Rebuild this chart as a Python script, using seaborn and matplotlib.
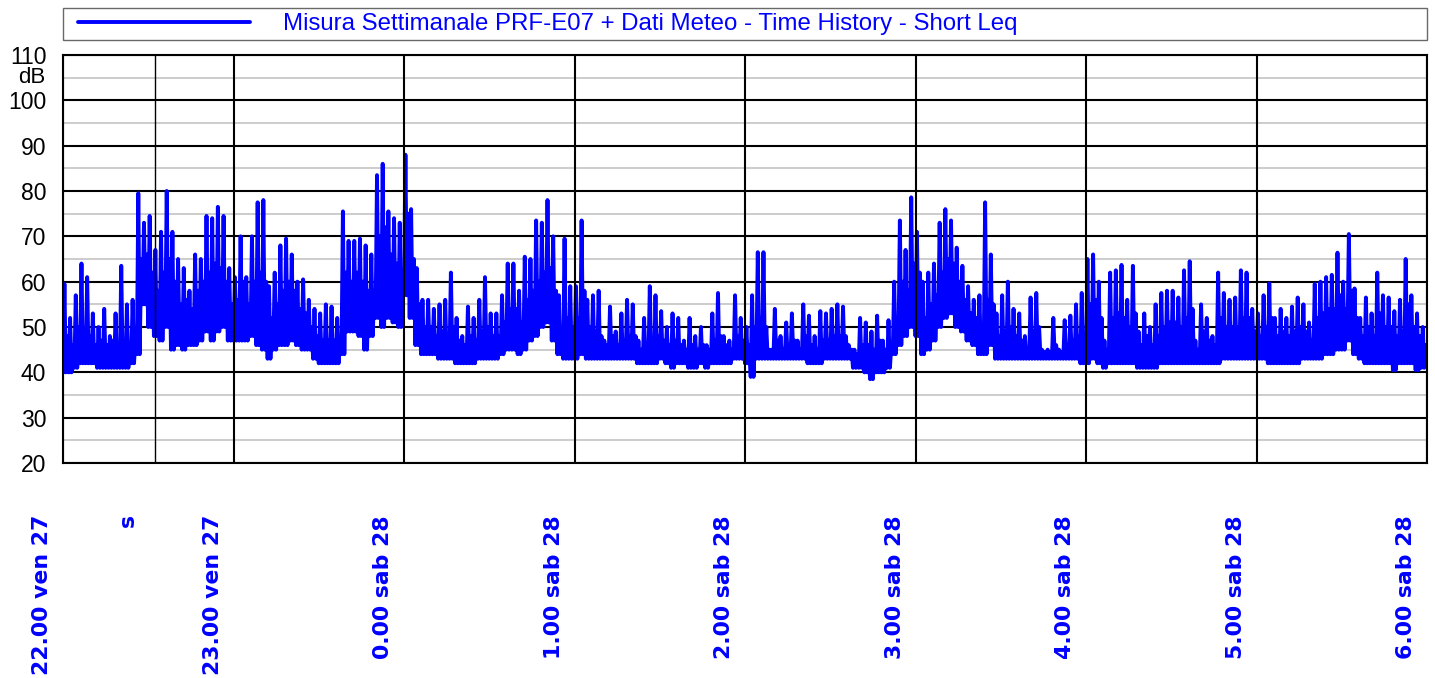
import numpy as np
import pandas as pd
import matplotlib
matplotlib.use("Agg")
import matplotlib.pyplot as plt
import matplotlib.transforms as mtransforms
from matplotlib.legend_handler import HandlerLine2D
import seaborn as sns

# Short Leq time history in 2-minute bins.
# floor = lowest level, peak = tallest spike, band = top of the dense band (dB)
BIN_MIN = 2

hour22_peak = [59.5, 52, 57, 64, 61, 53, 50, 54, 48, 53, 63.5, 55, 56, 79.5, 73,
               74.5, 67, 71, 80, 71, 65, 63, 58, 66, 65, 74.5, 74, 76.5, 74.5, 63]
hour22_band = [48, 46, 50, 47, 48, 46, 47, 46, 47, 46, 47, 46, 48, 65, 66,
               62, 58, 62, 65, 60, 55, 56, 54, 58, 60, 62, 64, 63, 60, 55]
hour22_floor = [40, 40, 41, 42, 42, 42, 41, 41, 41, 41, 41, 41, 42, 44, 55,
                50, 48, 47, 50, 45, 46, 45, 46, 46, 47, 49, 47, 49, 50, 47]

hour23_peak = [61, 70, 61, 70, 77.5, 78, 59, 62, 68, 69.5, 66, 60, 60.5, 56, 54,
               53, 55, 54.5, 52, 75.5, 69, 69, 69.5, 68, 66, 83.5, 86, 75.5, 74, 73]
hour23_band = [56, 60, 55, 60, 62, 60, 52, 55, 58, 60, 58, 54, 53, 50, 48,
               47, 47, 47, 47, 62, 60, 62, 60, 58, 58, 70, 72, 66, 64, 62]
hour23_floor = [47, 47, 47, 48, 46, 45, 43, 45, 46, 46, 47, 46, 45, 45, 43,
                42, 42, 42, 42, 44, 49, 49, 48, 45, 48, 52, 50, 52, 51, 50]

hour0_peak = [88, 76, 63, 56, 56, 54, 55, 56, 62, 52, 48, 54.5, 52, 56, 61,
              53, 53, 57, 64, 64, 58, 65.5, 65, 73.5, 73, 78, 70, 57, 69.5, 59]
hour0_band = [75, 65, 55, 50, 50, 48, 49, 48, 50, 47, 46, 48, 47, 49, 50,
              48, 48, 51, 54, 54, 51, 56, 58, 60, 62, 63, 58, 50, 52, 50]
hour0_floor = [57, 52, 46, 44, 44, 44, 43, 43, 43, 42, 42, 42, 42, 43, 43,
               43, 43, 44, 45, 45, 44, 45, 47, 48, 50, 51, 47, 44, 43, 43]

hour1_peak = [59, 73.5, 56, 57, 58, 47, 54.5, 49, 53, 56, 55, 47, 52, 59, 57,
              53.5, 50, 53, 52, 47, 52, 48, 50, 46, 53, 57.5, 48, 47, 57, 52]
hour1_band = [52, 58, 50, 49, 48, 46, 48, 46, 47, 48, 48, 45, 46, 47, 48,
              47, 46, 47, 46, 45, 46, 45, 46, 45, 47, 48, 46, 45, 48, 47]
hour1_floor = [43, 44, 43, 43, 43, 43, 43, 43, 43, 43, 43, 42, 42, 42, 42,
               43, 42, 41, 42, 42, 41, 41, 42, 41, 42, 42, 42, 42, 43, 43]

hour2_peak = [50, 57, 66.5, 66.5, 45, 54, 48, 51, 53, 47, 55, 52.5, 48, 53.5, 53,
              54, 55, 54.5, 46, 45, 52, 51, 49, 52.5, 47, 51.5, 60, 73.5, 67, 78.6]
hour2_band = [46, 50, 52, 50, 45, 47, 45, 46, 47, 45, 48, 46, 45, 47, 47,
              48, 48, 48, 45, 44, 46, 46, 45, 47, 45, 46, 52, 60, 58, 64]
hour2_floor = [42, 39, 43, 43, 43, 43, 43, 43, 43, 43, 43, 42, 42, 42, 43,
               43, 43, 43, 43, 41, 41, 40, 38.5, 40, 40, 41, 44, 46, 48, 50]

hour3_peak = [71, 60, 62, 64, 73, 76, 73.5, 67.5, 63.5, 59, 56, 57, 77.5, 66, 53,
              57, 60, 54, 53, 48, 56.5, 57.5, 45, 45, 52, 45, 51.5, 52.5, 55, 57.5]
hour3_band = [62, 52, 55, 57, 62, 65, 64, 60, 56, 53, 52, 50, 56, 55, 48,
              49, 50, 48, 47, 45, 49, 50, 44.5, 44.5, 46, 44.5, 46, 47, 48, 48]
hour3_floor = [48, 44, 45, 47, 50, 52, 53, 50, 49, 47, 46, 44, 44, 46, 43,
               43, 43, 43, 43, 43, 43, 43, 43, 43, 43, 43, 43, 43, 43, 42]

hour4_peak = [65, 66, 60, 47, 62, 62.5, 63.7, 56, 63.5, 49, 53, 50, 55, 57.5, 58,
              58, 56.5, 62.5, 64.5, 47, 55, 52, 48, 62, 57.5, 56, 56.5, 62.5, 62, 54]
hour4_band = [55, 56, 52, 45, 52, 53, 52, 50, 53, 46, 48, 46, 48, 50, 51,
              51, 50, 52, 54, 45, 49, 47, 46, 52, 50, 50, 50, 52, 52, 49]
hour4_floor = [42, 43, 42, 41, 42, 42, 42, 42, 42, 41, 41, 41, 41, 42, 42,
               42, 42, 42, 42, 42, 42, 42, 42, 42, 43, 43, 43, 43, 43, 43]

hour5_peak = [53, 57, 59.6, 52, 54, 52, 54.5, 56.5, 55, 51, 59.5, 60, 61, 61.5, 66.4,
              60, 70.5, 58.5, 52, 56.5, 53, 62, 57, 56.5, 53.5, 56, 65, 57, 53, 50]
hour5_band = [48, 50, 52, 48, 49, 48, 49, 50, 49, 47, 52, 53, 54, 54, 57,
              54, 58, 52, 48, 50, 48, 53, 50, 50, 48, 49, 55, 50, 48, 46]
hour5_floor = [43, 43, 42, 42, 42, 42, 42, 42, 43, 43, 43, 43, 44, 44, 45,
               45, 47, 44, 43, 42, 42, 42, 42, 42, 40.5, 42, 42, 42, 40.5, 41]
end_db = 42

hour_labels = ["22.00 ven 27", "23.00 ven 27", "0.00 sab 28", "1.00 sab 28",
               "2.00 sab 28", "3.00 sab 28", "4.00 sab 28", "5.00 sab 28",
               "6.00 sab 28"]
marker_min = 32.4
marker_label = "s"
legend_label = "Misura Settimanale PRF-E07 + Dati Meteo - Time History - Short Leq"

peaks = (hour22_peak + hour23_peak + hour0_peak + hour1_peak +
         hour2_peak + hour3_peak + hour4_peak + hour5_peak)
bands = (hour22_band + hour23_band + hour0_band + hour1_band +
         hour2_band + hour3_band + hour4_band + hour5_band)
floors = (hour22_floor + hour23_floor + hour0_floor + hour1_floor +
          hour2_floor + hour3_floor + hour4_floor + hour5_floor)

# each bin: floor -> peak -> floor -> band
start = np.arange(len(peaks)) * BIN_MIN
q = BIN_MIN / 4
minutes = np.column_stack([start, start + q, start + 2 * q, start + 3 * q]).ravel()
levels = np.column_stack([floors, peaks, floors, bands]).ravel()
total_min = len(peaks) * BIN_MIN
df = pd.DataFrame({"minute": np.append(minutes, total_min),
                   "leq": np.append(levels, end_db)})

sns.set_style("white")
plt.rcParams['font.family'] = ['Liberation Sans', 'DejaVu Sans']

blue = "#0000ff"
fig = plt.figure(figsize=(14.35, 6.78), dpi=100)
ax = fig.add_axes([63 / 1435, 215 / 678, 1364 / 1435, 408 / 678])

sns.lineplot(data=df, x="minute", y="leq", ax=ax, sort=False, estimator=None,
             color=blue, linewidth=2.8, label=legend_label, zorder=2)

ax.set_xlim(0, total_min)
ax.set_ylim(20, 110)
ax.set_xlabel("")
ax.set_ylabel("")

# y grid: black every 10 dB, light grey in between
ax.set_yticks(range(20, 111, 10))
ax.set_yticks(range(25, 110, 10), minor=True)
ax.set_axisbelow(True)
ax.grid(which="major", axis="y", color="black", linewidth=1.5)
ax.grid(which="minor", axis="y", color="#c8c8c8", linewidth=1.3)
ax.tick_params(axis="y", which="major", length=11, width=1, color="#555555",
               pad=1, labelsize=16.5, labelcolor="black")
ax.tick_params(axis="y", which="minor", length=0)

hour_ticks = np.arange(0, total_min + 1, 60)
ax.set_xticks(hour_ticks)
ax.set_xticklabels(hour_labels, rotation=90, color=blue, fontsize=15.8,
                   fontweight="bold", family=["DejaVu Sans"])
ax.tick_params(axis="x", length=11, width=1, color="#555555", pad=26.5)
shift = mtransforms.ScaledTranslation(-0.21, 0, fig.dpi_scale_trans)
for lbl in ax.get_xticklabels():
    lbl.set_transform(lbl.get_transform() + shift)

for m in hour_ticks:
    ax.axvline(m, color="black", linewidth=1.5, zorder=3)
ax.axvline(marker_min, color="black", linewidth=1, zorder=3)

for s in ax.spines.values():
    s.set_color("black")
    s.set_linewidth(1.5)
    s.set_zorder(4)

ax.text(-0.013, 0.944, "dB", transform=ax.transAxes, ha="right", va="center",
        fontsize=16, color="black")
ax.text(22.9, -0.125, marker_label, transform=ax.get_xaxis_transform(),
        rotation=90, ha="center", va="top", color=blue, fontsize=15.8,
        fontweight="bold", family=["DejaVu Sans"])

leg_fs = 17.3
leg = ax.legend(loc="lower left", bbox_to_anchor=(0, 1.037, 1, 0.07),
                mode="expand", borderaxespad=0, frameon=True, fancybox=False,
                edgecolor="#444444", handlelength=7.6, handletextpad=1.375,
                borderpad=0.2, fontsize=leg_fs, labelcolor=blue,
                handler_map={ax.get_lines()[0]: HandlerLine2D(xpad=0.425)})
leg.get_frame().set_linewidth(1)

fig.savefig("out.png", dpi=100)
